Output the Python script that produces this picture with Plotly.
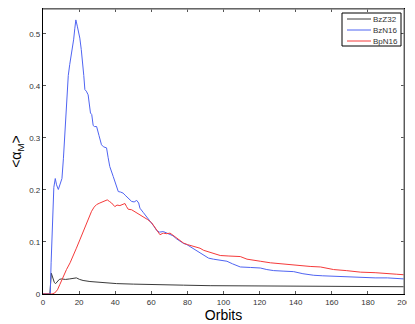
import plotly.graph_objects as go

# BzZ32 (dark gray)
bzz32_x = [0, 3.8, 4.6, 5.5, 6.3, 7, 8, 9, 10.2, 12.5, 14.8, 16.5, 18.5, 20.3, 22.2, 26,
           31.5, 36, 40.8, 50, 59.3, 70, 77.8, 92.6, 110, 130, 150, 175, 200]
bzz32_y = [0, 0, 0.040, 0.030, 0.022, 0.020, 0.024, 0.028, 0.029, 0.028, 0.029, 0.030,
           0.031, 0.028, 0.026, 0.024, 0.022, 0.021, 0.020, 0.019, 0.018, 0.0175, 0.017,
           0.016, 0.0155, 0.015, 0.015, 0.0145, 0.014]

# BzN16 (blue)
bzn16_x = [0, 4, 4.5, 5.2, 6, 6.8, 7.5, 8.5, 9.5, 10.5, 11.3, 12, 13, 14, 14.8, 15.5, 16.3,
           17, 17.6, 18.2, 19, 20.4, 21.2, 21.9, 22.6, 23.2, 24, 25, 25.7, 26.3, 27, 27.8,
           28.5, 29.7, 31, 32.4, 33.5, 35.2, 36.1, 37, 38.9, 40.5, 41.7, 43, 44.4, 45.5,
           47.2, 48, 49.1, 50.5, 51.9, 53, 53.7, 55.5, 57.4, 60.2, 61.5, 63, 64.5, 66.7,
           68.5, 70.4, 72, 74, 75.9, 78, 79.7, 82, 85.2, 88, 91.7, 94.4, 98, 101.9, 105,
           109.3, 115, 120.4, 124, 127.8, 133, 138.9, 144, 150, 155, 161, 168, 176, 184,
           190.8, 196, 200]
bzn16_y = [0, 0, 0.06, 0.15, 0.205, 0.222, 0.21, 0.201, 0.21, 0.222, 0.26, 0.30, 0.377,
           0.42, 0.441, 0.455, 0.47, 0.49, 0.51, 0.527, 0.515, 0.492, 0.47, 0.45, 0.42,
           0.393, 0.39, 0.383, 0.365, 0.348, 0.345, 0.324, 0.322, 0.322, 0.305, 0.287,
           0.283, 0.281, 0.262, 0.245, 0.226, 0.21, 0.197, 0.196, 0.194, 0.19, 0.185,
           0.182, 0.178, 0.177, 0.18, 0.175, 0.165, 0.157, 0.149, 0.137, 0.13, 0.122,
           0.119, 0.12, 0.117, 0.114, 0.112, 0.106, 0.101, 0.097, 0.095, 0.09, 0.082,
           0.077, 0.069, 0.067, 0.065, 0.063, 0.058, 0.052, 0.051, 0.05, 0.047, 0.045,
           0.044, 0.043, 0.039, 0.036, 0.035, 0.034, 0.033, 0.031, 0.031, 0.031, 0.030,
           0.029]

# BpN16 (red)
bpn16_x = [0, 5, 6.5, 8, 9.3, 11, 13, 15, 16.7, 18.5, 20.4, 22.3, 24.1, 25.5, 26.9, 28.3,
           29.7, 31.5, 33.3, 34.5, 35.6, 36.8, 38, 39.8, 41, 42.6, 44, 45.4, 46.3, 47.2,
           49.1, 50.5, 51.9, 53.5, 55.6, 58, 60.2, 61.5, 63, 64.8, 66, 66.7, 68.5, 70.4,
           72, 74.1, 75.9, 77.8, 80, 83.3, 85, 87, 89, 91.7, 95, 98.2, 103, 109.3, 113,
           116, 120.4, 126, 131.5, 137, 142.6, 148, 153.7, 158, 161, 168, 176, 184, 190.8,
           196, 200]
bpn16_y = [0, 0, 0.002, 0.008, 0.018, 0.032, 0.047, 0.06, 0.072, 0.088, 0.104, 0.12,
           0.137, 0.15, 0.159, 0.167, 0.172, 0.175, 0.178, 0.18, 0.181, 0.178, 0.175,
           0.168, 0.171, 0.170, 0.172, 0.174, 0.168, 0.163, 0.162, 0.159, 0.156, 0.152,
           0.149, 0.143, 0.137, 0.131, 0.124, 0.114, 0.116, 0.117, 0.116, 0.117, 0.113,
           0.108, 0.103, 0.098, 0.095, 0.092, 0.09, 0.088, 0.084, 0.081, 0.077, 0.074,
           0.073, 0.072, 0.067, 0.065, 0.063, 0.06, 0.058, 0.057, 0.055, 0.053, 0.052,
           0.049, 0.047, 0.045, 0.042, 0.041, 0.040, 0.038, 0.037]

series_names = ["BzZ32", "BzN16", "BpN16"]
series_colors = ["#3a3a3a", "#4f64f2", "#f53a3a"]

x_ticks = list(range(0, 201, 20))
y_ticks = [0, 0.1, 0.2, 0.3, 0.4, 0.5]
y_tick_text = ["0", "0.1", "0.2", "0.3", "0.4", "0.5"]

font_family = "Liberation Sans, Arial, sans-serif"

fig = go.Figure()

for xs, ys, name, color in zip([bzz32_x, bzn16_x, bpn16_x], [bzz32_y, bzn16_y, bpn16_y],
                               series_names, series_colors):
    fig.add_trace(go.Scatter(x=xs, y=ys, mode="lines", name=name,
                             line=dict(color=color, width=1)))

axis_common = dict(
    showgrid=False,
    zeroline=False,
    showline=True,
    linecolor="black",
    linewidth=1.3,
    mirror="ticks",
    ticks="inside",
    ticklen=3,
    tickcolor="#555555",
    automargin=False,
    tickfont=dict(size=8, color="#333333", family=font_family),
)

fig.update_xaxes(range=[0, 200], tickvals=x_ticks,
                 title=dict(text="Orbits", font=dict(size=14, color="black", family=font_family),
                            standoff=0),
                 **axis_common)
fig.update_yaxes(range=[0, 0.548], tickvals=y_ticks, ticktext=y_tick_text,
                 title=dict(text="&lt;α<sub>M</sub>&gt;",
                            font=dict(size=14, color="black", family=font_family),
                            standoff=12),
                 **axis_common)

# lighter top and right frame edges
fig.add_shape(type="line", xref="paper", yref="paper", x0=0, x1=1, y0=1, y1=1,
              line=dict(color="#8a8a8a", width=1.3), layer="above")
fig.add_shape(type="line", xref="paper", yref="paper", x0=1, x1=1, y0=0, y1=1,
              line=dict(color="#8a8a8a", width=1.3), layer="above")

# compact legend box in the top-right corner
plot_w, plot_h = 361.0, 285.0
box_l, box_r = 1 - 62 / plot_w, 1 - 3 / plot_w
box_t, box_b = 1 - 4 / plot_h, 1 - 37 / plot_h
fig.add_shape(type="rect", xref="paper", yref="paper", x0=box_l, x1=box_r, y0=box_b, y1=box_t,
              line=dict(color="black", width=1), fillcolor="white", layer="above")
for i, (name, color) in enumerate(zip(series_names, series_colors)):
    yy = 1 - (10 + 11 * i) / plot_h
    fig.add_shape(type="line", xref="paper", yref="paper",
                  x0=box_l + 5 / plot_w, x1=box_l + 29 / plot_w, y0=yy, y1=yy,
                  line=dict(color=color, width=1), layer="above")
    fig.add_annotation(xref="paper", yref="paper", x=box_l + 30 / plot_w, y=yy,
                       xanchor="left", yanchor="middle", text=name, showarrow=False,
                       borderpad=0,
                       font=dict(size=8, color="#333333", family=font_family))

# the page body has an 8px margin, so the figure is shifted by 8px in the window
fig.update_layout(
    width=407,
    height=316,
    margin=dict(l=35, r=11, t=1, b=30),
    plot_bgcolor="white",
    paper_bgcolor="white",
    font=dict(family=font_family, size=8, color="#333333"),
    showlegend=False,
)

fig.write_html("out.html")
